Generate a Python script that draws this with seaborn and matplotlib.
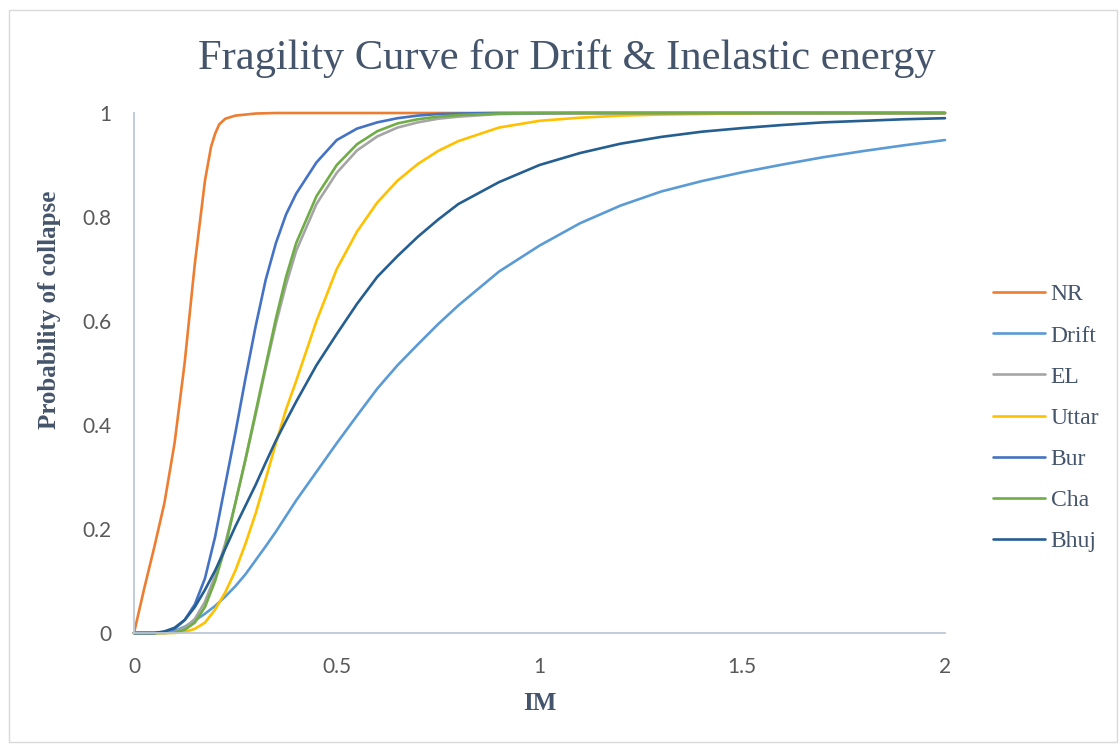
import matplotlib
matplotlib.use("Agg")
import matplotlib.pyplot as plt
import seaborn as sns
import pandas as pd
from matplotlib.patches import Rectangle

# ---- data ----
x_nr = [0, 0.025, 0.05, 0.075, 0.1, 0.125, 0.15, 0.175, 0.19, 0.2, 0.21, 0.225, 0.25, 0.275,
        0.3, 0.35, 0.5, 1.0, 1.5, 2.0]
nr = [0, 0.085, 0.165, 0.25, 0.365, 0.52, 0.71, 0.87, 0.935, 0.96, 0.978, 0.989, 0.995, 0.997,
      0.999, 1.0, 1.0, 1.0, 1.0, 1.0]

x_im = [0, 0.025, 0.05, 0.075, 0.1, 0.125, 0.15, 0.175, 0.2, 0.225, 0.25, 0.275, 0.3, 0.325,
        0.35, 0.375, 0.4, 0.45, 0.5, 0.55, 0.6, 0.65, 0.7, 0.75, 0.8, 0.9, 1.0, 1.1, 1.2, 1.3,
        1.4, 1.5, 1.6, 1.7, 1.8, 1.9, 2.0]
drift = [0, 0, 0, 0.001, 0.004, 0.012, 0.024, 0.037, 0.052, 0.07, 0.09, 0.113, 0.14, 0.167,
         0.195, 0.225, 0.255, 0.31, 0.365, 0.418, 0.47, 0.515, 0.555, 0.594, 0.63, 0.695, 0.745,
         0.788, 0.822, 0.849, 0.869, 0.886, 0.901, 0.915, 0.927, 0.938, 0.948]
el = [0, 0, 0, 0, 0.002, 0.01, 0.027, 0.06, 0.11, 0.172, 0.25, 0.333, 0.42, 0.51,
      0.595, 0.67, 0.735, 0.825, 0.885, 0.928, 0.955, 0.972, 0.982, 0.989, 0.993, 0.998, 0.999,
      1.0, 1.0, 1.0, 1.0, 1.0, 1.0, 1.0, 1.0, 1.0, 1.0]
uttar = [0, 0, 0, 0, 0, 0.002, 0.008, 0.02, 0.045, 0.078, 0.12, 0.172, 0.23, 0.297,
         0.365, 0.43, 0.485, 0.6, 0.7, 0.772, 0.828, 0.87, 0.902, 0.927, 0.946, 0.972, 0.985,
         0.991, 0.995, 0.997, 0.998, 0.999, 1.0, 1.0, 1.0, 1.0, 1.0]
bur = [0, 0, 0, 0.002, 0.008, 0.025, 0.055, 0.105, 0.185, 0.285, 0.385, 0.49, 0.59, 0.68,
       0.75, 0.805, 0.845, 0.905, 0.948, 0.97, 0.982, 0.99, 0.995, 0.998, 0.999, 1.0, 1.0,
       1.0, 1.0, 1.0, 1.0, 1.0, 1.0, 1.0, 1.0, 1.0, 1.0]
cha = [0, 0, 0, 0, 0.001, 0.006, 0.02, 0.05, 0.1, 0.165, 0.25, 0.335, 0.425, 0.515,
       0.605, 0.685, 0.75, 0.84, 0.9, 0.94, 0.965, 0.98, 0.988, 0.993, 0.996, 0.999, 1.0,
       1.0, 1.0, 1.0, 1.0, 1.0, 1.0, 1.0, 1.0, 1.0, 1.0]
bhuj = [0, 0, 0, 0.003, 0.01, 0.025, 0.05, 0.083, 0.12, 0.162, 0.205, 0.245, 0.285, 0.328,
        0.37, 0.408, 0.445, 0.515, 0.575, 0.633, 0.685, 0.725, 0.762, 0.795, 0.825, 0.867, 0.9,
        0.923, 0.941, 0.954, 0.964, 0.971, 0.977, 0.982, 0.985, 0.988, 0.99]

series_names = ["NR", "Drift", "EL", "Uttar", "Bur", "Cha", "Bhuj"]
x_ticks = [0, 0.5, 1, 1.5, 2]
x_tick_labels = ["0", "0.5", "1", "1.5", "2"]
y_ticks = [0, 0.2, 0.4, 0.6, 0.8, 1]
y_tick_labels = ["0", "0.2", "0.4", "0.6", "0.8", "1"]

colors = {"NR": "#ED7D31", "Drift": "#5B9BD5", "EL": "#A5A5A5", "Uttar": "#FFC000",
          "Bur": "#4472C4", "Cha": "#70AD47", "Bhuj": "#255E91"}

frames = [pd.DataFrame({"IM": x_nr, "P": nr, "series": "NR"})]
for name, vals in zip(series_names[1:], [drift, el, uttar, bur, cha, bhuj]):
    frames.append(pd.DataFrame({"IM": x_im, "P": vals, "series": name}))
df = pd.concat(frames, ignore_index=True)

sns.set_theme(style="white")
plt.rcParams["font.family"] = ["Liberation Serif", "DejaVu Serif"]

fig = plt.figure(figsize=(11.2, 7.45), dpi=100)
ax = fig.add_axes([134 / 1120, 1 - 633 / 745, (945 - 134) / 1120, (633 - 113) / 745])

sns.lineplot(data=df, x="IM", y="P", hue="series", hue_order=series_names,
             palette=colors, sort=False, estimator=None, linewidth=1.9, ax=ax,
             clip_on=False)
for ln in ax.get_lines():
    ln.set_solid_joinstyle("round")

ax.set_xlim(0, 2)
ax.set_ylim(0, 1)
ax.set_xticks(x_ticks)
ax.set_xticklabels(x_tick_labels)
ax.set_yticks(y_ticks)
ax.set_yticklabels(y_tick_labels)
for lab in ax.get_xticklabels() + ax.get_yticklabels():
    lab.set_family(["Lato", "DejaVu Sans"])
    lab.set_fontsize(15)
    lab.set_color("#595959")
ax.tick_params(axis="y", length=0, pad=16)
ax.tick_params(axis="x", length=0, pad=17)

for side in ["top", "right"]:
    ax.spines[side].set_visible(False)
for side in ["left", "bottom"]:
    ax.spines[side].set_color("#BCC8D8")
    ax.spines[side].set_linewidth(1.3)
ax.grid(False)

ax.set_xlabel("IM", fontsize=18, fontweight="bold", color="#44546A")
ax.set_ylabel("Probability of collapse", fontsize=18, fontweight="bold", color="#44546A")
ax.xaxis.label.set_va("center")
ax.yaxis.label.set_va("center")
ax.xaxis.set_label_coords(0.5, -(703 - 633) / 520)
ax.yaxis.set_label_coords(-(134 - 50) / 811, (633 - 310) / 520)

fig.text(567 / 1120, 1 - 58 / 745, "Fragility Curve for Drift & Inelastic energy",
         ha="center", va="center", fontsize=30.6, color="#44546A")

handles, labels = ax.get_legend_handles_labels()
leg = ax.legend(handles, labels, loc="center left", bbox_to_anchor=(993 / 1120, 1 - 418 / 745),
                bbox_transform=fig.transFigure, frameon=False, fontsize=17,
                handlelength=2.2, handletextpad=0.25, labelspacing=0.83,
                borderpad=0, borderaxespad=0)
for t in leg.get_texts():
    t.set_color("#44546A")
for line in leg.get_lines():
    line.set_linewidth(1.9)

fig.patches.append(Rectangle((9 / 1120, 3 / 745), 1108 / 1120, 732 / 745,
                             transform=fig.transFigure, fill=False,
                             edgecolor="#D9D9D9", linewidth=1.0))

fig.savefig("out.png", dpi=100, facecolor="white")
